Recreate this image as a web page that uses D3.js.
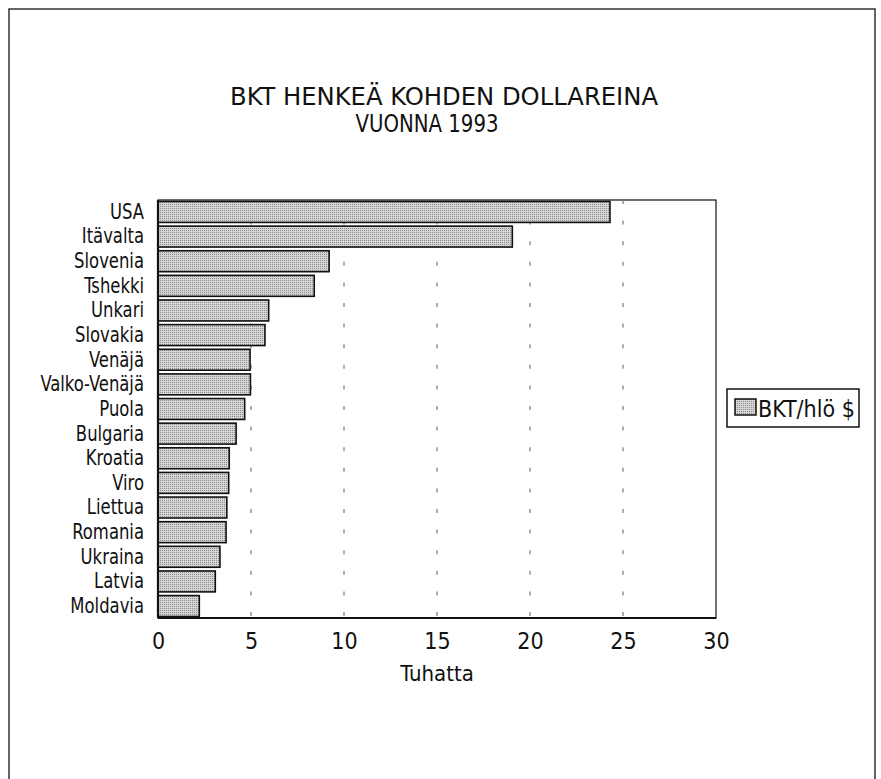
<!DOCTYPE html>
<html>
<head>
<meta charset="utf-8">
<script src="https://cdn.jsdelivr.net/npm/d3@7"></script>
<style>
  body { margin: 0; background: #fff; }
  text { font-family: "Liberation Sans Narrow", "Arial Narrow", "DejaVu Sans Condensed", sans-serif; fill: #111; }
</style>
</head>
<body>
<div id="container"></div>
<script>
const WIDTH = 881;
const HEIGHT = 779;

const countries = ["USA", "Itävalta", "Slovenia", "Tshekki", "Unkari", "Slovakia", "Venäjä",
    "Valko-Venäjä", "Puola", "Bulgaria", "Kroatia", "Viro", "Liettua", "Romania",
    "Ukraina", "Latvia", "Moldavia"];
const gdpPerCapita = [24.3, 19.05, 9.2, 8.4, 5.95, 5.75, 4.95, 4.97, 4.66, 4.2, 3.83, 3.8,
    3.7, 3.66, 3.33, 3.08, 2.22];
const xTicks = [0, 5, 10, 15, 20, 25, 30];
const gridTicks = [5, 10, 15, 20, 25];
const titleLines = ["BKT HENKEÄ KOHDEN DOLLAREINA", "VUONNA 1993"];
const seriesName = "BKT/hlö $";
const xLabel = "Tuhatta";

var margin = { left: 158, top: 200, right: 716, bottom: 618 };

// where each title line sits in the printed original
var titleBox = [
    { cx: 444, y: 105, w: 428 },
    { cx: 427, y: 132, w: 143 }
];

var labelSquash = 0.85;

var drawChart = function () {
    var svg = d3.select("#container").append("svg")
        .attr("width", WIDTH)
        .attr("height", HEIGHT);

    // stipple fill like the printed bars
    var pat = svg.append("defs").append("pattern")
        .attr("id", "stipple")
        .attr("width", 2).attr("height", 2)
        .attr("patternUnits", "userSpaceOnUse");
    pat.append("rect").attr("width", 2).attr("height", 2).attr("fill", "#d6d6d6");
    pat.append("rect").attr("width", 1).attr("height", 1).attr("fill", "#8a8a8a");

    // outer frame
    svg.append("rect")
        .attr("x", 9).attr("y", 9)
        .attr("width", 866).attr("height", 800)
        .attr("fill", "none").attr("stroke", "#333").attr("stroke-width", 1.5);

    var x = d3.scaleLinear().domain([0, 30]).range([margin.left, margin.right]);
    var y = d3.scaleBand().domain(countries).range([margin.top, margin.bottom])
        .paddingInner(0.15).paddingOuter(0.06);

    // title
    svg.selectAll(".title").data(titleLines).enter().append("text")
        .attr("class", "title")
        .attr("x", function (d, i) { return titleBox[i].cx; })
        .attr("y", function (d, i) { return titleBox[i].y; })
        .attr("text-anchor", "middle")
        .attr("textLength", function (d, i) { return titleBox[i].w; })
        .attr("lengthAdjust", "spacingAndGlyphs")
        .style("font-size", "24px")
        .text(function (d) { return d; });

    // plot frame
    svg.append("rect")
        .attr("x", margin.left).attr("y", margin.top)
        .attr("width", margin.right - margin.left).attr("height", margin.bottom - margin.top)
        .attr("fill", "none").attr("stroke", "#111").attr("stroke-width", 1.2);

    // dashed grid
    svg.selectAll(".grid").data(gridTicks).enter().append("line")
        .attr("class", "grid")
        .attr("x1", function (d) { return x(d); }).attr("x2", function (d) { return x(d); })
        .attr("y1", margin.top).attr("y2", margin.bottom)
        .attr("stroke", "#777").attr("stroke-width", 1.2)
        .attr("stroke-dasharray", "4,16.6");

    // bars
    svg.selectAll(".bar").data(countries).enter().append("rect")
        .attr("class", "bar")
        .attr("x", x(0))
        .attr("y", function (d) { return y(d); })
        .attr("width", function (d, i) { return x(gdpPerCapita[i]) - x(0); })
        .attr("height", y.bandwidth())
        .attr("fill", "url(#stipple)")
        .attr("stroke", "#111").attr("stroke-width", 1.6);

    // axes
    var xAxis = svg.append("g")
        .attr("transform", "translate(0," + margin.bottom + ")")
        .call(d3.axisBottom(x).tickValues(xTicks).tickSize(0).tickPadding(15));
    xAxis.select(".domain").remove();
    xAxis.selectAll("text").style("font-size", "23px").attr("fill", "#111");

    var yAxis = svg.append("g")
        .attr("transform", "translate(" + margin.left + ",0)")
        .call(d3.axisLeft(y).tickSize(0).tickPadding(14));
    yAxis.select(".domain").remove();
    // the printed labels use a narrow face, so squeeze them a little
    yAxis.selectAll("text")
        .style("font-size", "21.5px")
        .attr("fill", "#111")
        .attr("x", -14 / labelSquash)
        .attr("transform", "scale(" + labelSquash + ",1)");

    svg.append("line")
        .attr("x1", margin.left).attr("x2", margin.right)
        .attr("y1", margin.bottom).attr("y2", margin.bottom)
        .attr("stroke", "#111").attr("stroke-width", 2.2);
    svg.append("line")
        .attr("x1", margin.left).attr("x2", margin.left)
        .attr("y1", margin.top).attr("y2", margin.bottom)
        .attr("stroke", "#111").attr("stroke-width", 2.2);

    svg.append("text")
        .attr("x", x(15)).attr("y", 681)
        .attr("text-anchor", "middle")
        .style("font-size", "22px")
        .text(xLabel);

    // legend
    var legend = svg.append("g").attr("transform", "translate(727,389)");
    legend.append("rect")
        .attr("width", 132).attr("height", 38)
        .attr("fill", "#fff").attr("stroke", "#111").attr("stroke-width", 1.5);
    legend.append("rect")
        .attr("x", 8).attr("y", 10).attr("width", 21).attr("height", 16)
        .attr("fill", "url(#stipple)").attr("stroke", "#111").attr("stroke-width", 1.5);
    legend.append("text")
        .attr("x", 31).attr("y", 28)
        .style("font-size", "23px")
        .text(seriesName);
};

window.onload = drawChart;
</script>
</body>
</html>
